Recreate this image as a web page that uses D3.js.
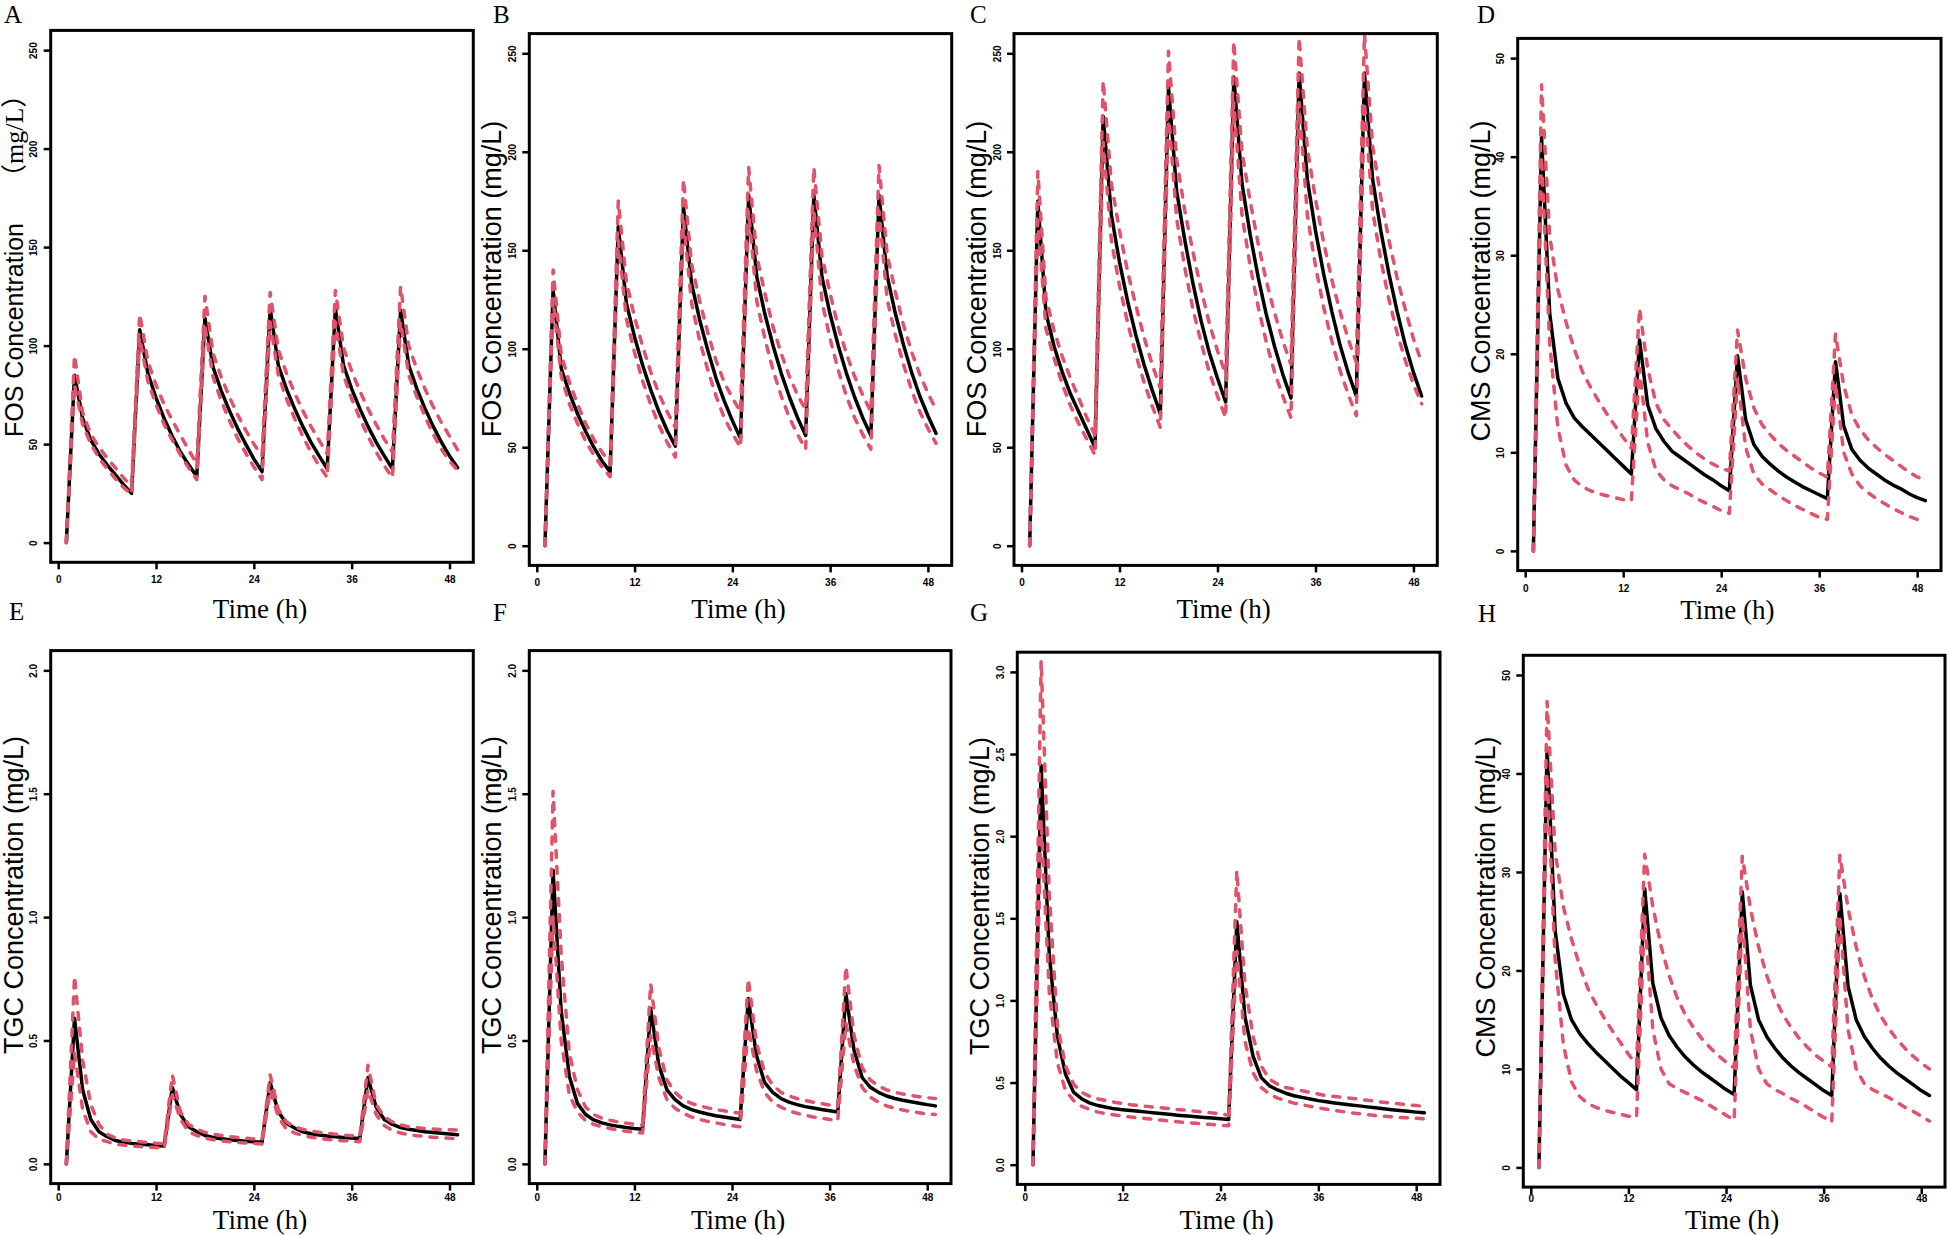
<!DOCTYPE html>
<meta charset="utf-8">

<script src="https://d3js.org/d3.v7.min.js"></script>

<style type="text/css">
  body { margin: 0; background: #fff; }
  svg { display: block; background: #fff; }
  .tick text { font-family: "Liberation Sans", Arial, sans-serif; font-size: 10px; font-weight: bold; fill: #000; }
  .tick line { stroke: #000; stroke-width: 2.5; }
  .frame { fill: none; stroke: #000; stroke-width: 3; }
  .mid { fill: none; stroke: #000; stroke-width: 3.5; stroke-linejoin: round; stroke-linecap: round; }
  .ci { fill: none; stroke: #DF536B; stroke-width: 3.5; stroke-dasharray: 7 9; stroke-linejoin: round; stroke-linecap: round; }
  .ylab { font-family: "Liberation Sans", Arial, sans-serif; font-size: 27px; }
  .xlab { font-family: "Liberation Serif", "Times New Roman", serif; font-size: 27px; }
  .letter { font-family: "Liberation Serif", "Times New Roman", serif; font-size: 25px; }
</style>

<body>
</body>

<script>

  // time grid (h) shared by all simulated profiles
  const hours = [1, 2, 3, 4, 5, 6, 7, 8, 9, 10, 11, 12, 13, 14, 15, 16, 17, 18, 19, 20, 21, 22, 23, 24, 25,
    26, 27, 28, 29, 30, 31, 32, 33, 34, 35, 36, 37, 38, 39, 40, 41, 42, 43, 44, 45, 46, 47, 48, 49];

  const xTicks = [0, 12, 24, 36, 48];
  const fosTicks = [0, 50, 100, 150, 200, 250];
  const cmsTicks = [0, 10, 20, 30, 40, 50];
  const tgcTicks2 = [0, 0.5, 1, 1.5, 2];
  const tgcTicks3 = [0, 0.5, 1, 1.5, 2, 2.5, 3];

  // A - FOS
  const fosA_mid = [0,
    85, 63, 52, 45, 39.5, 34.5, 29.5, 25,
    108, 86, 73.5, 63, 54, 46, 39.5, 33.5,
    114, 89, 77, 67, 58, 50, 42.5, 36,
    119, 90, 78, 68, 59, 51, 44, 37.5,
    119, 90, 78, 68, 59, 51, 44, 37.5,
    118, 90, 78, 68, 59, 51, 44, 38];
  const fosA_hi = [0,
    95, 66, 55, 48.5, 43, 38, 33, 28.5,
    116, 92, 80, 70, 62, 54.5, 47, 40,
    125, 96, 84, 74, 65, 57, 50, 44,
    127, 98, 86, 76, 67, 59, 52, 45,
    128, 99, 87, 77, 68, 60, 52.5, 46,
    130, 100, 88, 78, 69, 61, 54, 47];
  const fosA_lo = [0,
    80, 60, 50, 43, 37.5, 32.5, 28, 24.5,
    104, 82, 70, 60, 52, 44.5, 38, 32,
    110, 84, 72, 62, 53, 45.5, 38.5, 32,
    112, 85, 73, 63, 54, 46, 39, 33,
    112, 85, 73, 63, 54, 46, 39, 33,
    112, 85, 74, 64, 55, 47.5, 41.5, 36.5];

  // B - FOS
  const fosB_mid = [0,
    130, 90, 77.5, 67, 58, 50, 43, 37.5,
    162, 123, 106, 91.5, 79, 68, 58.5, 50.5,
    172, 133, 114.5, 99, 85, 73.5, 63.5, 54.5,
    178, 136.5, 117.5, 101.5, 87.5, 75.5, 65, 56,
    178, 136.5, 117.5, 101.5, 87.5, 75.5, 65, 56,
    178, 137, 118, 102, 88, 76, 66, 57];
  const fosB_hi = [0,
    140, 97, 83, 72, 62, 54, 47.5, 42,
    175, 134, 116, 101, 88, 77, 68, 60,
    186, 143, 124, 108, 94, 83, 75, 68,
    192, 147, 128, 111, 97.5, 86, 76.5, 69,
    192, 147, 128, 111, 97.5, 86, 76.5, 68,
    193, 148, 129, 112, 98.5, 87, 77.5, 69];
  const fosB_lo = [0,
    125, 86, 72, 62, 53, 46, 40, 35,
    155, 115, 98, 83.5, 71.5, 61, 52.5, 45,
    165, 123, 104, 89, 76, 65, 57, 50,
    170, 124, 105, 89, 76, 65, 56.5, 49,
    170, 124, 105, 89, 76, 65, 56.5, 49,
    170, 125, 107, 92, 79, 68, 59.5, 52];

  // C - FOS
  const fosC_mid = [0,
    175, 118, 101, 88, 77, 68, 59, 50,
    218, 168, 144, 124, 107, 92, 79, 67,
    233, 180, 155, 133, 114, 98, 85, 73,
    238, 184, 158, 136, 117, 101, 87, 75,
    240, 186, 160, 138, 119, 102, 88, 76,
    240, 186, 160, 138, 119, 102, 88, 76];
  const fosC_hi = [0,
    190, 126, 109, 96, 85, 75, 65, 56,
    236, 184, 160, 139, 122, 106, 92, 80,
    251, 196, 170, 149, 130, 113, 99, 87,
    256, 200, 175, 153, 134, 118, 104, 92,
    258, 202, 176, 154, 135, 119, 105, 93,
    260, 203, 177, 155, 136, 120, 105, 93];
  const fosC_lo = [0,
    165, 110, 95, 82, 71, 62, 54, 46,
    205, 155, 132, 113, 97, 83, 71, 60,
    220, 166, 141, 120, 103, 88, 76, 65,
    225, 168, 142, 121, 103, 88, 76, 65,
    225, 168, 142, 121, 104, 89, 77, 66,
    225, 170, 145, 125, 108, 94, 82, 72];

  // D - CMS
  const cmsD_mid = [0,
    42, 24.1, 17.5, 15, 13.5, 12.6, 11.8, 11.0, 10.2, 9.4, 8.6, 7.8,
    21.4, 14.8, 12.4, 11.1, 10.1, 9.5, 8.9, 8.3, 7.7, 7.2, 6.6, 6.1,
    19.8, 13.3, 10.8, 9.6, 8.8, 8.1, 7.5, 7.0, 6.5, 6.1, 5.7, 5.3,
    19.2, 12.7, 10.3, 9.2, 8.4, 7.8, 7.2, 6.7, 6.3, 5.8, 5.4, 5.1];
  const cmsD_hi = [0,
    47.3, 32, 26.5, 23.2, 20.5, 18.2, 16.6, 15.2, 13.9, 12.7, 11.5, 10.4,
    24.6, 18.5, 15.0, 13.3, 12.3, 11.4, 10.6, 9.9, 9.3, 8.8, 8.4, 8.1,
    22.4, 17.5, 14.5, 12.8, 11.8, 10.9, 10.2, 9.6, 9.0, 8.4, 7.9, 7.5,
    22.0, 16.8, 13.8, 12.3, 11.3, 10.5, 9.8, 9.2, 8.6, 8.0, 7.5, 7.2];
  const cmsD_lo = [0,
    40, 21, 12.5, 8.7, 7.2, 6.5, 6.1, 5.8, 5.6, 5.4, 5.2, 5.1,
    18.5, 11, 8.2, 7.2, 6.6, 6.2, 5.8, 5.3, 4.9, 4.5, 4.1, 3.8,
    17.5, 10.5, 7.8, 6.8, 6.2, 5.6, 5.1, 4.6, 4.2, 3.8, 3.4, 3.2,
    17, 10, 7.8, 6.6, 5.9, 5.3, 4.8, 4.3, 3.9, 3.5, 3.2, 3.0];

  // E - TGC
  const tgcE_mid = [0,
    0.59, 0.30, 0.18, 0.13, 0.11, 0.095, 0.088, 0.083, 0.08, 0.077, 0.074, 0.072,
    0.31, 0.20, 0.15, 0.13, 0.115, 0.107, 0.102, 0.098, 0.095, 0.092, 0.09, 0.088,
    0.33, 0.21, 0.165, 0.145, 0.13, 0.122, 0.117, 0.113, 0.11, 0.107, 0.105, 0.103,
    0.35, 0.23, 0.18, 0.16, 0.147, 0.14, 0.135, 0.13, 0.127, 0.124, 0.121, 0.118];
  const tgcE_hi = [0,
    0.76, 0.42, 0.24, 0.16, 0.12, 0.105, 0.097, 0.093, 0.09, 0.087, 0.084, 0.082,
    0.36, 0.21, 0.16, 0.14, 0.128, 0.12, 0.115, 0.11, 0.107, 0.104, 0.101, 0.098,
    0.36, 0.22, 0.17, 0.15, 0.14, 0.133, 0.128, 0.124, 0.12, 0.117, 0.114, 0.112,
    0.40, 0.24, 0.19, 0.17, 0.158, 0.15, 0.146, 0.143, 0.141, 0.139, 0.138, 0.137];
  const tgcE_lo = [0,
    0.45, 0.22, 0.13, 0.10, 0.09, 0.08, 0.076, 0.072, 0.07, 0.068, 0.066, 0.064,
    0.28, 0.18, 0.13, 0.115, 0.105, 0.098, 0.093, 0.09, 0.087, 0.085, 0.083, 0.08,
    0.30, 0.19, 0.14, 0.125, 0.115, 0.108, 0.103, 0.099, 0.096, 0.094, 0.092, 0.09,
    0.30, 0.2, 0.155, 0.135, 0.125, 0.118, 0.114, 0.111, 0.108, 0.106, 0.104, 0.102];

  // F - TGC
  const tgcF_mid = [0,
    1.19, 0.62, 0.355, 0.245, 0.2, 0.178, 0.166, 0.158, 0.152, 0.147, 0.143, 0.14,
    0.63, 0.40, 0.3, 0.26, 0.235, 0.22, 0.21, 0.202, 0.195, 0.19, 0.185, 0.18,
    0.67, 0.44, 0.33, 0.29, 0.265, 0.25, 0.24, 0.232, 0.226, 0.22, 0.215, 0.21,
    0.69, 0.46, 0.35, 0.31, 0.29, 0.275, 0.265, 0.258, 0.252, 0.246, 0.24, 0.235];
  const tgcF_hi = [0,
    1.51, 0.85, 0.45, 0.3, 0.23, 0.2, 0.185, 0.177, 0.17, 0.165, 0.16, 0.157,
    0.73, 0.47, 0.34, 0.29, 0.26, 0.245, 0.235, 0.227, 0.22, 0.215, 0.21, 0.205,
    0.75, 0.49, 0.37, 0.32, 0.29, 0.275, 0.265, 0.257, 0.25, 0.244, 0.238, 0.232,
    0.80, 0.52, 0.39, 0.34, 0.315, 0.3, 0.29, 0.283, 0.277, 0.272, 0.268, 0.265];
  const tgcF_lo = [0,
    1.0, 0.5, 0.28, 0.21, 0.175, 0.16, 0.15, 0.143, 0.137, 0.132, 0.128, 0.125,
    0.52, 0.35, 0.26, 0.225, 0.205, 0.19, 0.18, 0.172, 0.166, 0.16, 0.155, 0.15,
    0.55, 0.38, 0.29, 0.25, 0.23, 0.215, 0.205, 0.197, 0.19, 0.185, 0.18, 0.175,
    0.57, 0.40, 0.31, 0.27, 0.25, 0.235, 0.225, 0.218, 0.212, 0.207, 0.202, 0.2];

  // G - TGC (q24h)
  const tgcG_mid = [0,
    2.43, 1.28, 0.78, 0.55, 0.44, 0.4, 0.375, 0.36, 0.35, 0.34, 0.335, 0.33,
    0.325, 0.32, 0.315, 0.31, 0.305, 0.3, 0.296, 0.292, 0.288, 0.284, 0.28, 0.275,
    1.48, 0.9, 0.66, 0.53, 0.48, 0.455, 0.435, 0.42, 0.41, 0.4, 0.39, 0.383,
    0.376, 0.37, 0.364, 0.358, 0.352, 0.346, 0.34, 0.335, 0.33, 0.325, 0.32, 0.316];
  const tgcG_hi = [0,
    3.07, 1.65, 0.85, 0.6, 0.49, 0.44, 0.415, 0.4, 0.39, 0.38, 0.372, 0.365,
    0.36, 0.355, 0.35, 0.345, 0.34, 0.335, 0.33, 0.325, 0.32, 0.315, 0.31, 0.3,
    1.79, 1.1, 0.78, 0.6, 0.52, 0.49, 0.47, 0.46, 0.45, 0.44, 0.43, 0.42,
    0.415, 0.41, 0.405, 0.398, 0.392, 0.386, 0.38, 0.375, 0.37, 0.365, 0.36, 0.355];
  const tgcG_lo = [0,
    2.1, 1.05, 0.62, 0.45, 0.39, 0.355, 0.335, 0.32, 0.31, 0.303, 0.297, 0.29,
    0.285, 0.28, 0.275, 0.27, 0.265, 0.26, 0.256, 0.252, 0.248, 0.244, 0.24, 0.237,
    1.3, 0.75, 0.56, 0.47, 0.43, 0.405, 0.39, 0.375, 0.365, 0.355, 0.346, 0.338,
    0.33, 0.323, 0.316, 0.31, 0.305, 0.3, 0.296, 0.292, 0.288, 0.285, 0.282, 0.28];

  // H - CMS
  const cmsH_mid = [0,
    42.5, 24, 17.6, 15, 13.6, 12.6, 11.7, 10.9, 10.1, 9.3, 8.6, 7.9,
    28.3, 18.7, 15.2, 13.4, 12.2, 11.2, 10.4, 9.7, 9.1, 8.5, 7.9, 7.4,
    28.0, 18.5, 15.0, 13.3, 12.1, 11.1, 10.3, 9.6, 9.0, 8.4, 7.8, 7.3,
    27.8, 18.4, 15.0, 13.3, 12.1, 11.1, 10.3, 9.6, 9.0, 8.4, 7.8, 7.3];
  const cmsH_hi = [0,
    47.3, 32, 26.5, 23.2, 20.5, 18.2, 16.6, 15.2, 13.9, 12.7, 11.5, 10.4,
    31.8, 26.5, 22.5, 19.5, 17.2, 15.5, 14.2, 13.1, 12.2, 11.4, 10.7, 10.1,
    31.6, 26.3, 22.4, 19.5, 17.2, 15.5, 14.2, 13.1, 12.2, 11.4, 10.8, 10.2,
    31.7, 26.3, 22.4, 19.4, 17.1, 15.4, 14.1, 13.0, 12.1, 11.3, 10.6, 10.0];
  const cmsH_lo = [0,
    40, 21, 12.5, 8.7, 7.2, 6.5, 6.1, 5.8, 5.6, 5.4, 5.2, 5.1,
    25.5, 14, 10, 8.5, 8, 7.6, 7.2, 6.8, 6.3, 5.8, 5.3, 4.8,
    25.5, 14, 10, 8.5, 7.9, 7.5, 7.0, 6.6, 6.1, 5.6, 5.1, 4.6,
    25.5, 14, 10, 8.5, 7.9, 7.5, 7.1, 6.6, 6.1, 5.7, 5.2, 4.7];

  // panel layout: frame [left, top, right, bottom] in page px
  let panels = [
    { id: "A", drug: "FOS", box: [50.7, 30.4, 473.3, 562.3], ticks: fosTicks, mid: fosA_mid, hi: fosA_hi, lo: fosA_lo, letter: [4, 22.5], labY: 279, xlabY: 618, tickPad: 7, serifUnit: true },
    { id: "B", drug: "FOS", box: [529.3, 33.6, 951.7, 565.4], ticks: fosTicks, mid: fosB_mid, hi: fosB_hi, lo: fosB_lo, letter: [493, 22.5], labY: 279, xlabY: 618, tickPad: 7 },
    { id: "C", drug: "FOS", box: [1014, 33.6, 1437.3, 565.4], ticks: fosTicks, mid: fosC_mid, hi: fosC_hi, lo: fosC_lo, letter: [970, 22.5], labY: 279, xlabY: 618, tickPad: 7 },
    { id: "D", drug: "CMS", box: [1517.7, 38.4, 1941, 570.6], ticks: cmsTicks, mid: cmsD_mid, hi: cmsD_hi, lo: cmsD_lo, letter: [1477, 23], labY: 281, xlabY: 619, tickPad: 7 },
    { id: "E", drug: "TGC", box: [50.7, 650.6, 473.3, 1183.6], ticks: tgcTicks2, mid: tgcE_mid, hi: tgcE_hi, lo: tgcE_lo, letter: [9, 620], labY: 895, xlabY: 1229, tickPad: 3.5 },
    { id: "F", drug: "TGC", box: [529.3, 650.6, 951, 1183.6], ticks: tgcTicks2, mid: tgcF_mid, hi: tgcF_hi, lo: tgcF_lo, letter: [493, 621], labY: 895, xlabY: 1229, tickPad: 3.5 },
    { id: "G", drug: "TGC", box: [1017.3, 652.2, 1440, 1184.4], ticks: tgcTicks3, mid: tgcG_mid, hi: tgcG_hi, lo: tgcG_lo, letter: [970, 621], labY: 896, xlabY: 1229, tickPad: 2.8 },
    { id: "H", drug: "CMS", box: [1523.3, 655.3, 1945, 1187.1], ticks: cmsTicks, mid: cmsH_mid, hi: cmsH_hi, lo: cmsH_lo, letter: [1478, 622], labY: 897, xlabY: 1229, tickPad: 1 }
  ];

  let svg = d3.select("body").append("svg")
    .attr("width", 1947)
    .attr("height", 1235);

  panels.forEach(p => {
    let [x0, y0, x1, y1] = p.box;
    let top = p.ticks[p.ticks.length - 1];

    // R style: 4% padding around the data range
    let xScale = d3.scaleLinear().domain([1 - 0.04 * 48, 49 + 0.04 * 48]).range([x0, x1]);
    let yScale = d3.scaleLinear().domain([-0.04 * top, top * 1.04]).range([y1, y0]);

    let g = svg.append("g").attr("class", "panel");

    let xAxis = d3.axisBottom(xScale).tickValues(xTicks).tickSize(7).tickPadding(p.tickPad).tickSizeOuter(0);
    g.append("g")
      .attr("class", "x axis")
      .attr("transform", `translate(0, ${y1})`)
      .call(xAxis)
      .call(a => a.select(".domain").remove());

    let fmt = top <= 3 ? d3.format(".1f") : d3.format("d");
    let yAxis = d3.axisLeft(yScale).tickValues(p.ticks).tickSize(7).tickFormat(fmt).tickSizeOuter(0);
    g.append("g")
      .attr("class", "y axis")
      .attr("transform", `translate(${x0}, 0)`)
      .call(yAxis)
      .call(a => a.select(".domain").remove())
      .call(a => a.selectAll(".tick text")
        .attr("x", null).attr("dy", "0.35em")
        .attr("text-anchor", "middle")
        .attr("transform", "translate(-17,0) rotate(-90)"));

    let line = d3.line()
      .x((d, i) => xScale(hours[i]))
      .y(d => yScale(d));

    g.append("path").attr("class", "mid").attr("d", line(p.mid));
    g.append("path").attr("class", "ci").attr("d", line(p.hi));
    g.append("path").attr("class", "ci").attr("d", line(p.lo));

    g.append("rect")
      .attr("class", "frame")
      .attr("x", x0).attr("y", y0)
      .attr("width", x1 - x0).attr("height", y1 - y0);

    // y label
    let ylab = g.append("text")
      .attr("class", "ylab")
      .attr("transform", `translate(${x0 - 28}, ${p.labY}) rotate(-90)`);
    if (p.serifUnit) {
      ylab.attr("text-anchor", "start").attr("x", -158);
      ylab.append("tspan").style("font-size", "25px").text(p.drug + " Concentration");
      ylab.append("tspan")
        .attr("dx", 33)
        .style("font-family", '"Liberation Serif", "Noto Sans CJK SC", serif')
        .style("font-size", "26px")
        .text("（mg/L）");
    } else {
      ylab.attr("text-anchor", "middle").text(p.drug + " Concentration (mg/L)");
    }

    // x label
    g.append("text")
      .attr("class", "xlab")
      .attr("x", (x0 + x1) / 2 - 2)
      .attr("y", p.xlabY)
      .attr("text-anchor", "middle")
      .text("Time (h)");

    // panel letter
    g.append("text")
      .attr("class", "letter")
      .attr("x", p.letter[0])
      .attr("y", p.letter[1])
      .text(p.id);
  });

</script>
